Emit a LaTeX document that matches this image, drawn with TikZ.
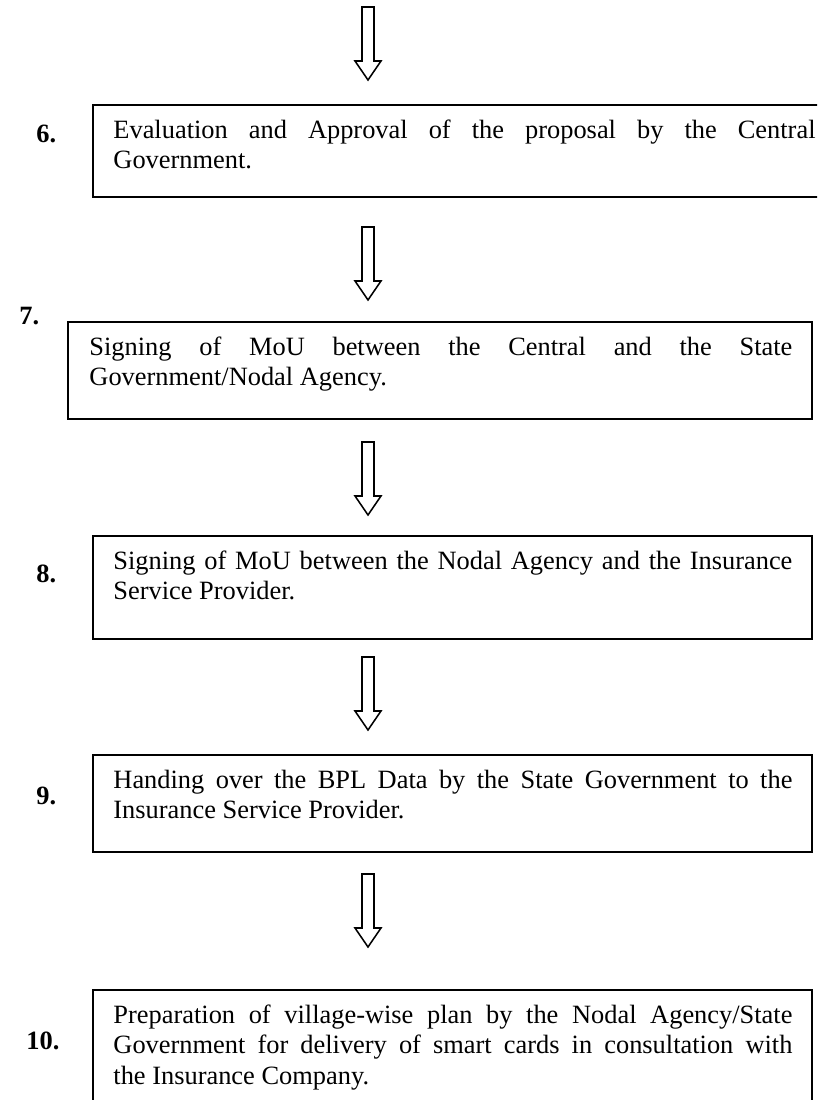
\documentclass[tikz,border=0pt]{standalone}
\usepackage{fontspec}
\setmainfont{Liberation Serif}
\usetikzlibrary{calc}
\hyphenpenalty=10000
\tolerance=10000
\hbadness=10000
\begin{document}
\begin{tikzpicture}[x=0.4545pt,y=-0.4545pt,
  stepbox/.style={draw, line width=0.9pt, rectangle, inner sep=0pt, anchor=north west},
  steptext/.style={anchor=north west, inner sep=0pt, align=justify,
    font=\fontsize{12}{13.8}\selectfont},
  steplabel/.style={anchor=base west, inner sep=0pt,
    font=\fontsize{12}{13.8}\selectfont\bfseries},
  hollow/.style={draw, line width=0.7pt, line join=miter},
  downarrow/.pic={\draw[hollow] (-6,0) -- (-6,54) -- (-13,54) -- (0,73)
    -- (13,54) -- (6,54) -- (6,0) -- cycle;}
]
\clip (0,0) rectangle (817,1100);

% step boxes
\node[stepbox, minimum width=738*0.4545pt, minimum height=92*0.4545pt]  (b6)  at (92,104) {};
\node[stepbox, minimum width=744*0.4545pt, minimum height=97*0.4545pt]  (b7)  at (67,321) {};
\node[stepbox, minimum width=719*0.4545pt, minimum height=103*0.4545pt] (b8)  at (92,535) {};
\node[stepbox, minimum width=719*0.4545pt, minimum height=97*0.4545pt]  (b9)  at (92,754) {};
\node[stepbox, minimum width=719*0.4545pt, minimum height=140*0.4545pt] (b10) at (92,989) {};

% box texts
\node[steptext, text width=319.1pt] (t6) at ($(b6.north west)+(21,12.75)$)
  {\strut Evaluation and Approval of the proposal by the Central\linebreak Government.};
\node[steptext, text width=319.5pt] (t7) at ($(b7.north west)+(22,12.75)$)
  {\strut Signing of MoU between the Central and the State\linebreak Government/Nodal Agency.};
\node[steptext, text width=308.6pt] (t8) at ($(b8.north west)+(21,12.75)$)
  {\strut Signing of MoU between the Nodal Agency and the Insurance\linebreak Service Provider.};
\node[steptext, text width=308.6pt] (t9) at ($(b9.north west)+(21,12.75)$)
  {\strut Handing over the BPL Data by the State Government to the\linebreak Insurance Service Provider.};
\node[steptext, text width=308.6pt] (t10) at ($(b10.north west)+(21,12.75)$)
  {\strut Preparation of village-wise plan by the Nodal Agency/State\linebreak
   Government for delivery of smart cards in consultation with\linebreak the Insurance Company.};

% step numbers
\node[steplabel] (n6)  at ($(b6.north west)+(-56,38)$)  {6.};
\node[steplabel] (n7)  at ($(b7.north west)+(-48,3)$)   {7.};
\node[steplabel] (n8)  at ($(b8.north west)+(-56,47)$)  {8.};
\node[steplabel] (n9)  at ($(b9.north west)+(-56,50)$)  {9.};
\node[steplabel] (n10) at ($(b10.north west)+(-66,60)$) {10.};

% hollow arrows between the steps
\coordinate (a1) at (368,7);
\coordinate (a2) at ($(b6.south -| a1)+(0,29)$);
\coordinate (a3) at ($(b7.south -| a1)+(0,22)$);
\coordinate (a4) at ($(b8.south -| a1)+(0,17)$);
\coordinate (a5) at ($(b9.south -| a1)+(0,21)$);
\foreach \a in {a1,a2,a3,a4,a5} \pic at (\a) {downarrow};
\end{tikzpicture}
\end{document}
